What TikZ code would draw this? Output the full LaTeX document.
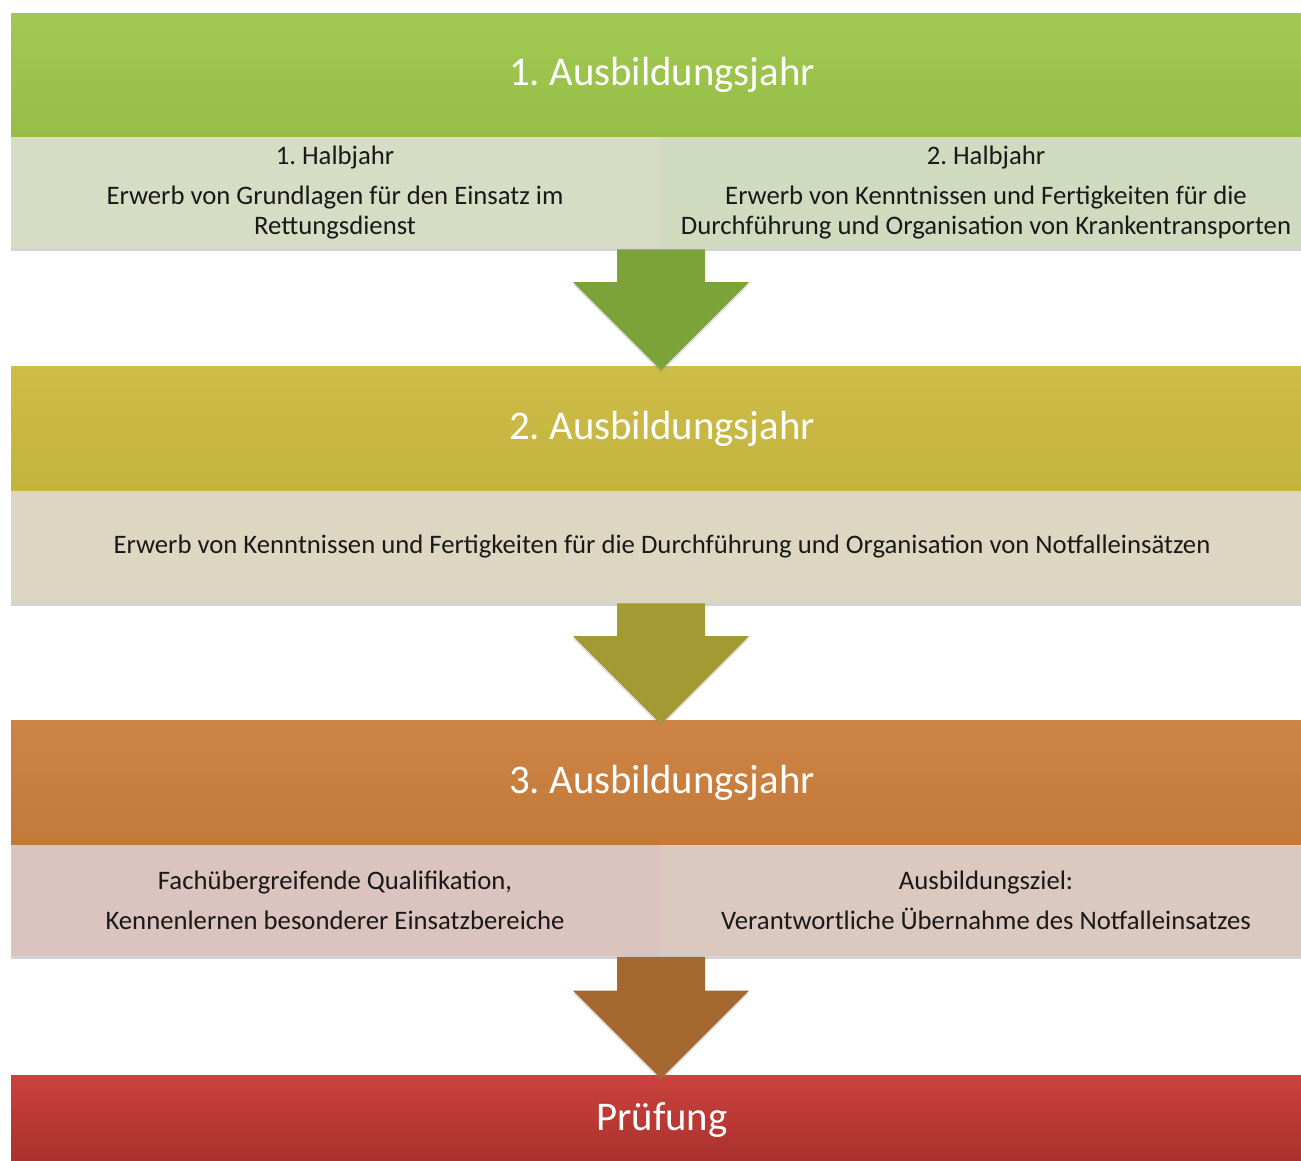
\documentclass[tikz,border=0pt]{standalone}
\usepackage{fontspec}
\setmainfont{Carlito}
\usetikzlibrary{calc,shadows}
\frenchspacing

\definecolor{gruenA}{HTML}{A2C952}
\definecolor{gruenB}{HTML}{96BE45}
\definecolor{feldgruenL}{HTML}{D7DCC4}
\definecolor{feldgruenR}{HTML}{D0DABF}
\definecolor{pfeilgruen}{HTML}{7BA33A}
\definecolor{olivA}{HTML}{CDBD48}
\definecolor{olivB}{HTML}{C3B33F}
\definecolor{feldoliv}{HTML}{DDD6C0}
\definecolor{pfeiloliv}{HTML}{A39A33}
\definecolor{orangeA}{HTML}{CD8444}
\definecolor{orangeB}{HTML}{C3793A}
\definecolor{feldrotL}{HTML}{DBC3BF}
\definecolor{feldrotR}{HTML}{DBC9BF}
\definecolor{pfeilbraun}{HTML}{A4692F}
\definecolor{rotA}{HTML}{CB423D}
\definecolor{rotB}{HTML}{A8302C}

\begin{document}
\begin{tikzpicture}[x=0.02cm, y=-0.02cm,
    jahr/.style={minimum width=26.04cm, minimum height=2.48cm, inner sep=0pt, text=white,
        font=\fontsize{23.2}{27}\selectfont},
    feld/.style={minimum height=2.22cm, inner sep=0pt, align=center, text=black!90,
        font=\fontsize{15.2}{17.2}\selectfont,
        drop shadow={shadow xshift=0pt, shadow yshift=-0.07cm, opacity=0.35}},
    pfeil/.style={drop shadow={shadow xshift=0pt, shadow yshift=-0.05cm, opacity=0.25}}]
    \useasboundingbox (0,0) rectangle (1301,1160);

    % 1. Ausbildungsjahr
    \node[jahr, top color=gruenA, bottom color=gruenB] (j1) at (662,75) {1. Ausbildungsjahr};
    \node[feld, minimum width=12.96cm, fill=feldgruenL] (t1) at (335,192.5)
        {1. Halbjahr\\[5.5pt] Erwerb von Grundlagen für den Einsatz im\\ Rettungsdienst};
    \node[feld, minimum width=13.08cm, fill=feldgruenR] (t2) at (986,192.5)
        {2. Halbjahr\\[5.5pt] Erwerb von Kenntnissen und Fertigkeiten für die\\ Durchführung und Organisation von Krankentransporten};

    % 2. Ausbildungsjahr
    \node[jahr, top color=olivA, bottom color=olivB] (j2) at (662,428.5) {2. Ausbildungsjahr};
    \node[feld, minimum width=26.04cm, fill=feldoliv] (z1) at (662,546.5)
        {Erwerb von Kenntnissen und Fertigkeiten für die Durchführung und Organisation von Notfalleinsätzen};

    % 3. Ausbildungsjahr
    \node[jahr, top color=orangeA, bottom color=orangeB] (j3) at (662,782.5) {3. Ausbildungsjahr};
    \node[feld, minimum width=12.96cm, fill=feldrotL] (d1) at (335,900)
        {Fachübergreifende Qualifikation,\\[5.5pt] Kennenlernen besonderer Einsatzbereiche};
    \node[feld, minimum width=13.08cm, fill=feldrotR] (d2) at (986,900)
        {Ausbildungsziel:\\[5.5pt] Verantwortliche Übernahme des Notfalleinsatzes};

    % Pruefung
    \node[jahr, minimum height=1.8cm, top color=rotA, bottom color=rotB] (pr) at (662,1120) {Prüfung};

    % Block arrows between the years
    \foreach \von/\nach/\farbe in {t1/j2/pfeilgruen, z1/j3/pfeiloliv, d1/pr/pfeilbraun}{
        \coordinate (oben) at ($(\nach.north |- \von.south)+(-1,1)$);
        \coordinate (spitze) at ($(\nach.north)+(-1,4)$);
        \fill[\farbe, pfeil] ($(oben)+(-44,0)$) -- ($(spitze)+(-44,-88)$) -- ($(spitze)+(-88,-88)$)
            -- (spitze) -- ($(spitze)+(88,-88)$) -- ($(spitze)+(44,-88)$) -- ($(oben)+(44,0)$) -- cycle;
    }
\end{tikzpicture}
\end{document}
